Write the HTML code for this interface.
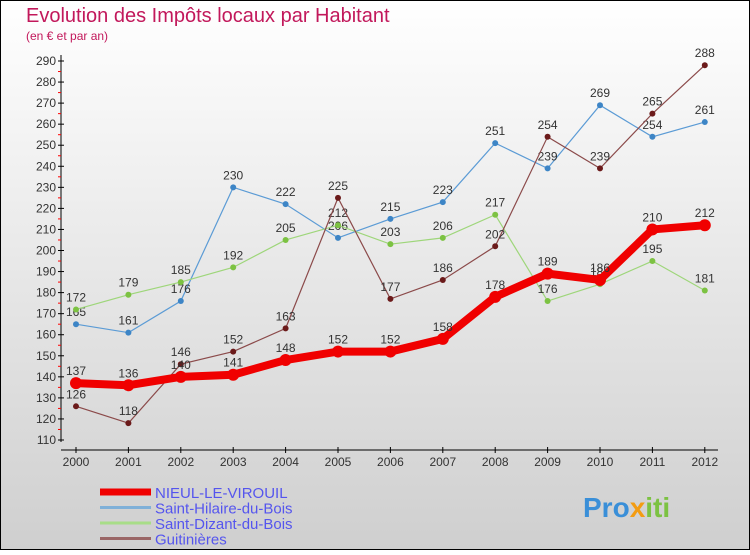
<!DOCTYPE html>
<html><head><meta charset="utf-8"><style>
body{margin:0;}
#c{width:750px;height:550px;position:relative;font-family:"Liberation Sans",sans-serif;}
</style></head><body>
<div id="c">
<svg width="750" height="550" xmlns="http://www.w3.org/2000/svg" id="svg">
<defs><linearGradient id="bg" x1="0" y1="0" x2="0" y2="1"><stop offset="0" stop-color="#ffffff"/><stop offset="1" stop-color="#cfcfcf"/></linearGradient></defs>
<rect x="0.5" y="0.5" width="749" height="549" fill="url(#bg)" stroke="#000"/>
<text x="26" y="22" font-size="20" fill="#c2185b">Evolution des Impôts locaux par Habitant</text>
<text x="26" y="40" font-size="12" fill="#c2185b">(en € et par an)</text>
<g id="axes"></g>
<g id="series"></g>
<g id="legend"></g>
<text x="583" y="517" font-size="28" font-weight="bold" fill="#3a8fd8">Pro<tspan fill="#f39c12">x</tspan><tspan fill="#7cc242">iti</tspan></text>
</svg>
</div>
<script>
const years=[2000,2001,2002,2003,2004,2005,2006,2007,2008,2009,2010,2011,2012];
const nieul=[137,136,140,141,148,152,152,158,178,189,186,210,212];
const hilaire=[165,161,176,230,222,206,215,223,251,239,269,254,261];
const dizant=[172,179,185,192,205,212,203,206,217,176,184,195,181];
const guit=[126,118,146,152,163,225,177,186,202,254,239,265,288];
const yTicks=[110,120,130,140,150,160,170,180,190,200,210,220,230,240,250,260,270,280,290];
const NS='http://www.w3.org/2000/svg';
const X=i=>76+i*52.4;
const Y=v=>440-(v-110)*(379/180);
function mk(tag,attrs,parent){const e=document.createElementNS(NS,tag);for(const k in attrs)e.setAttribute(k,attrs[k]);parent.appendChild(e);return e;}
const axes=document.getElementById('axes');
const ya=mk('line',{x1:61,y1:55,x2:61,y2:442,stroke:'#000'},axes);


const xa=mk('line',{x1:61,y1:450,x2:718,y2:450,stroke:'#000'},axes);


yTicks.forEach(v=>{
  mk('line',{x1:58,y1:Y(v),x2:64,y2:Y(v),stroke:'#000'},axes);
  if(v<290)mk('line',{x1:58,y1:Y(v+5),x2:61,y2:Y(v+5),stroke:'#f00'},axes);
  const t=mk('text',{x:56,y:Y(v)+4,'font-size':12,fill:'#333','text-anchor':'end'},axes);
  t.textContent=v;
  
  
});
years.forEach((y,i)=>{
  mk('line',{x1:X(i),y1:447,x2:X(i),y2:453,stroke:'#000'},axes);
  const t=mk('text',{x:X(i),y:466,'font-size':12,fill:'#333','text-anchor':'middle'},axes);
  t.textContent=y;
  
  
});
const ser=document.getElementById('series');
const defs=[
 {d:hilaire,c:'#5b9bd5',dot:'#3d85c6',w:1.2,r:3,name:'saint-hilaire'},
 {d:dizant,c:'#9ed67a',dot:'#7cc242',w:1.2,r:3,name:'saint-dizant'},
 {d:guit,c:'#8b4a4a',dot:'#6b1a1a',w:1.2,r:3,name:'guitinieres'},
 {d:nieul,c:'#f00000',dot:'#f00000',w:8,r:6,name:'nieul'}
];
defs.forEach(s=>{
  const g=mk('g',{},ser);
  
  
  const p=mk('polyline',{points:s.d.map((v,i)=>X(i)+','+Y(v)).join(' '),fill:'none',stroke:s.c,'stroke-width':s.w},g);
  
  
  s.d.forEach((v,i)=>{
    const c=mk('circle',{cx:X(i),cy:Y(v),r:s.r,fill:s.dot},g);
    
    
    const t=mk('text',{x:X(i),y:Y(v)-8,'font-size':12,fill:'#333','text-anchor':'middle'},g);
    t.textContent=v;
    
    
  });
});
const lg=document.getElementById('legend');
const le=[['NIEUL-LE-VIROUIL','#f00000',7],['Saint-Hilaire-du-Bois','#7fb0d8',3],['Saint-Dizant-du-Bois','#a8dd88',3],['Guitinières','#9a6666',3]];
le.forEach((l,i)=>{
  const y=492+i*15.5;
  const g=mk('g',{},lg);
  
  
  mk('line',{x1:100,y1:y,x2:151,y2:y,stroke:l[1],'stroke-width':l[2]},g);
  const t=mk('text',{x:155,y:y+6,'font-size':15,fill:'#5555ee'},g);
  t.textContent=l[0];
});
</script>
</body></html>
